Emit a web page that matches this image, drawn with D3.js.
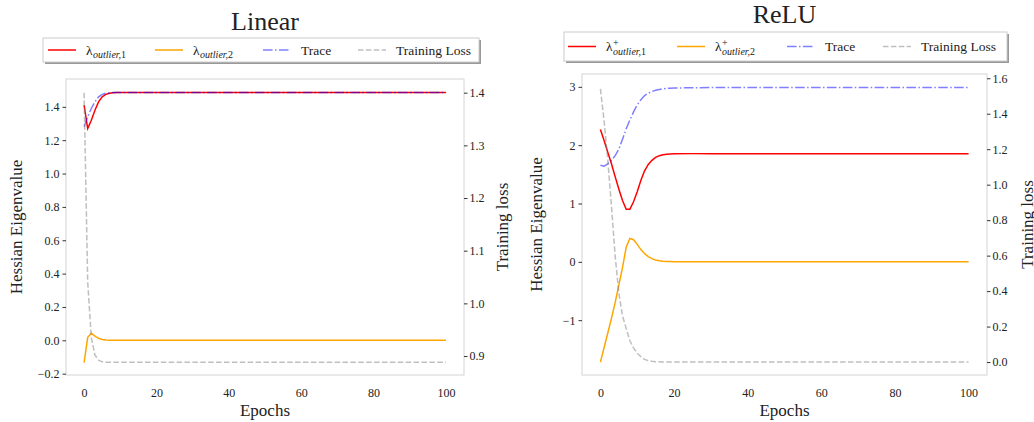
<!DOCTYPE html>
<html>
<head>
<meta charset="utf-8">
<style>
  body { margin: 0; background: #fff; }
  text { font-family: "Liberation Serif", "DejaVu Serif", serif; fill: #222; }
</style>
</head>
<body>
<script src="https://d3js.org/d3.v7.min.js"></script>
<script>
const W = 1034, H = 422;

// epochs sampled densely where things move, sparser on the plateau
const epochs = [0,1,2,3,4,5,6,7,8,9,10,11,12,13,14,15,16,17,18,19,20,
                25,30,35,40,45,50,55,60,65,70,75,80,85,90,95,100];

// Linear
const linOut1  = [1.41,1.27,1.32,1.38,1.43,1.46,1.475,1.482,1.485,1.486,1.486,1.486,1.486,1.486,1.486,1.486,1.486,1.486,1.486,1.486,1.486,
                  1.486,1.486,1.486,1.486,1.486,1.486,1.486,1.486,1.486,1.486,1.486,1.486,1.486,1.486,1.486,1.486];
const linOut2  = [-0.134,0.018,0.042,0.025,0.012,0.005,0.002,0.001,0,0,0,0,0,0,0,0,0,0,0,0,0,
                  0,0,0,0,0,0,0,0,0,0,0,0,0,0,0,0];
const linTrace = [1.28,1.34,1.39,1.43,1.46,1.475,1.482,1.485,1.486,1.486,1.486,1.486,1.486,1.486,1.486,1.486,1.486,1.486,1.486,1.486,1.486,
                  1.486,1.486,1.486,1.486,1.486,1.486,1.486,1.486,1.486,1.486,1.486,1.486,1.486,1.486,1.486,1.486];
const linLoss  = [1.40,1.04,0.935,0.902,0.892,0.889,0.888,0.888,0.888,0.888,0.888,0.888,0.888,0.888,0.888,0.888,0.888,0.888,0.888,0.888,0.888,
                  0.888,0.888,0.888,0.888,0.888,0.888,0.888,0.888,0.888,0.888,0.888,0.888,0.888,0.888,0.888,0.888];

// ReLU
const reluOut1  = [2.27,2.08,1.88,1.68,1.46,1.25,1.05,0.90,0.90,1.03,1.20,1.40,1.56,1.67,1.74,1.79,1.82,1.835,1.845,1.85,1.853,
                   1.855,1.855,1.855,1.855,1.855,1.855,1.855,1.855,1.855,1.855,1.855,1.855,1.855,1.855,1.855,1.855];
const reluOut2  = [-1.72,-1.47,-1.22,-0.97,-0.70,-0.40,-0.10,0.25,0.40,0.38,0.30,0.21,0.14,0.09,0.055,0.03,0.02,0.012,0.007,0.004,0.002,
                   0,0,0,0,0,0,0,0,0,0,0,0,0,0,0,0];
const reluTrace = [1.655,1.64,1.68,1.74,1.82,1.93,2.10,2.28,2.43,2.57,2.69,2.78,2.85,2.89,2.92,2.94,2.955,2.965,2.972,2.977,2.98,
                   2.985,2.987,2.987,2.987,2.987,2.987,2.987,2.987,2.987,2.987,2.987,2.987,2.987,2.987,2.987,2.987];
const reluLoss  = [1.54,1.36,1.14,0.88,0.60,0.39,0.26,0.19,0.12,0.08,0.05,0.03,0.015,0.008,0.004,0.002,0.001,0,0,0,0,
                   0,0,0,0,0,0,0,0,0,0,0,0,0,0,0,0];

const xTicks = [0,20,40,60,80,100];
const linYTicks = [-0.2,0,0.2,0.4,0.6,0.8,1.0,1.2,1.4];
const linLossTicks = [0.9,1.0,1.1,1.2,1.3,1.4];
const reluYTicks = [-1,0,1,2,3];
const reluLossTicks = [0,0.2,0.4,0.6,0.8,1.0,1.2,1.4,1.6];

const svg = d3.select("body").append("svg").attr("width", W).attr("height", H);

const panels = [
  {
    title: "Linear", plus: false,
    box: {l: 66, r: 464, t: 79, b: 375},
    yDom: [-0.208, 1.567], yTicks: linYTicks, yFmt: d3.format(".1f"),
    lDom: [0.864, 1.426], lTicks: linLossTicks,
    s: [linOut1, linOut2, linTrace, linLoss],
    titleY: 30,
    leg: {x: 43, y: 38, w: 436, h: 24, items: [48, 155, 263, 358]},
    yLabX: 22, lLabX: 508
  },
  {
    title: "ReLU", plus: true,
    box: {l: 582, r: 987, t: 74, b: 375},
    yDom: [-1.94, 3.22], yTicks: reluYTicks, yFmt: d3.format("d"),
    lDom: [-0.073, 1.624], lTicks: reluLossTicks,
    s: [reluOut1, reluOut2, reluTrace, reluLoss],
    titleY: 23,
    leg: {x: 564, y: 32, w: 443, h: 29, items: [568, 677, 787, 883]},
    yLabX: 542, lLabX: 1033
  }
];

const styles = [
  {stroke: "red", op: 1, dash: null},
  {stroke: "orange", op: 1, dash: null},
  {stroke: "blue", op: 0.5, dash: "9.6,2.4,1.5,2.4"},
  {stroke: "grey", op: 0.5, dash: "5.5,2.4"}
];

const minus = s => s.replace("-", "\u2212");

panels.forEach(p => {
  const b = p.box;
  const g = svg.append("g");
  const x = d3.scaleLinear().domain([-5, 105]).range([b.l, b.r]);
  const y = d3.scaleLinear().domain(p.yDom).range([b.b, b.t]);
  const yl = d3.scaleLinear().domain(p.lDom).range([b.b, b.t]);

  // frame
  g.append("rect").attr("x", b.l).attr("y", b.t).attr("width", b.r - b.l).attr("height", b.b - b.t)
    .attr("fill", "none").attr("stroke", "#d4d4d4").attr("stroke-width", 1);

  // axes
  const styleAxis = a => {
    a.select(".domain").remove();
    a.selectAll(".tick line").attr("stroke", "#333");
    a.selectAll(".tick text").attr("fill", "#444").style("font-size", "12px")
      .style("font-family", '"Liberation Serif", serif');
  };
  g.append("g").attr("transform", `translate(0,${b.b})`)
    .call(d3.axisBottom(x).tickValues(xTicks).tickSize(0).tickPadding(13).tickFormat(d3.format("d")))
    .call(styleAxis);
  g.append("g").attr("transform", `translate(${b.l},0)`)
    .call(d3.axisLeft(y).tickValues(p.yTicks).tickSize(3.5).tickPadding(3).tickFormat(d => minus(p.yFmt(d))))
    .call(styleAxis);
  g.append("g").attr("transform", `translate(${b.r},0)`)
    .call(d3.axisRight(yl).tickValues(p.lTicks).tickSize(3.5).tickPadding(2).tickFormat(d3.format(".1f")))
    .call(styleAxis);

  // series
  const scales = [y, y, y, yl];
  p.s.forEach((vals, i) => {
    const st = styles[i];
    const line = d3.line().x((d, k) => x(epochs[k])).y(d => scales[i](d));
    g.append("path").datum(vals).attr("d", line)
      .attr("fill", "none").attr("stroke", st.stroke).attr("stroke-opacity", st.op)
      .attr("stroke-width", 1.5).attr("stroke-dasharray", st.dash);
  });

  // labels
  const cx = (b.l + b.r) / 2;
  g.append("text").attr("x", cx).attr("y", p.titleY).attr("text-anchor", "middle")
    .style("font-size", "26px").attr("fill", "#000").text(p.title);
  g.append("text").attr("x", cx).attr("y", 416).attr("text-anchor", "middle")
    .style("font-size", "17px").attr("fill", "#333").text("Epochs");
  g.append("text").attr("transform", `translate(${p.yLabX},${(b.t + b.b) / 2}) rotate(-90)`)
    .attr("text-anchor", "middle").style("font-size", "17px").attr("fill", "#333").text("Hessian Eigenvalue");
  g.append("text").attr("transform", `translate(${p.lLabX},${(b.t + b.b) / 2}) rotate(-90)`)
    .attr("text-anchor", "middle").style("font-size", "17px").attr("fill", "#333").text("Training loss");

  // legend
  const L = p.leg;
  g.append("rect").attr("x", L.x + 2).attr("y", L.y + 2).attr("width", L.w).attr("height", L.h).attr("fill", "#999");
  g.append("rect").attr("x", L.x).attr("y", L.y).attr("width", L.w).attr("height", L.h)
    .attr("fill", "#fff").attr("stroke", "#ccc").attr("stroke-width", 1);
  const ly = L.y + L.h / 2;
  const names = [["1"], ["2"], "Trace", "Training Loss"];
  L.items.forEach((lx, i) => {
    const st = styles[i];
    g.append("line").attr("x1", lx).attr("x2", lx + 28).attr("y1", ly).attr("y2", ly)
      .attr("stroke", st.stroke).attr("stroke-opacity", st.op).attr("stroke-width", 1.5)
      .attr("stroke-dasharray", st.dash);
    const tx = lx + 38;
    if (typeof names[i] === "string") {
      g.append("text").attr("x", tx).attr("y", ly + 4.5).style("font-size", "13.5px").attr("fill", "#333").text(names[i]);
    } else {
      const lam = g.append("text").attr("x", tx).attr("y", ly + 4.5).style("font-size", "13.5px").attr("fill", "#333").text("\u03bb");
      const lw = lam.node().getComputedTextLength() + 0.5;
      g.append("text").attr("x", tx + lw).attr("y", ly + 8).style("font-size", "10px").style("font-style", "italic")
        .attr("fill", "#333").text("outlier,").append("tspan").style("font-style", "normal").text(names[i][0]);
      if (p.plus) {
        g.append("text").attr("x", tx + lw).attr("y", ly - 1).style("font-size", "10px").attr("fill", "#333").text("+");
      }
    }
  });
});
</script>
</body>
</html>
